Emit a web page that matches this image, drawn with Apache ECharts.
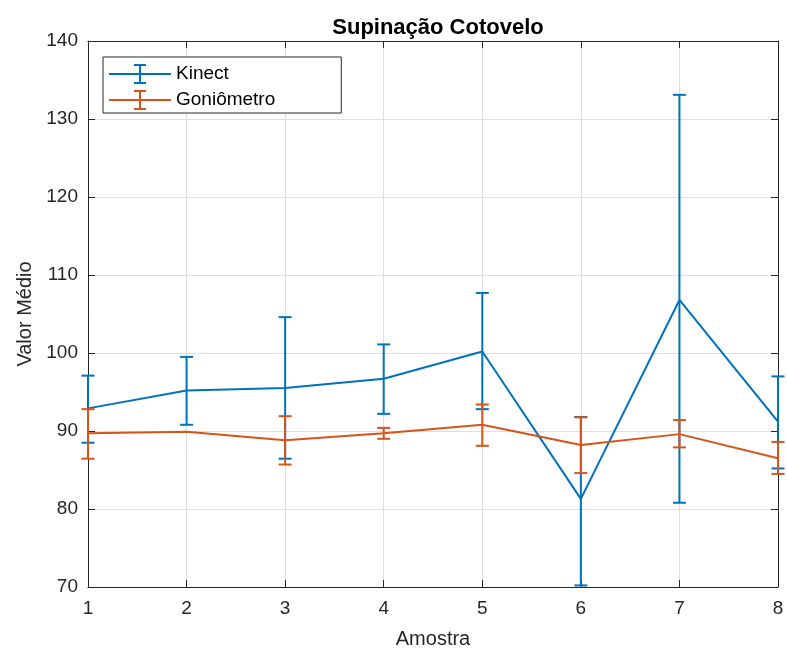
<!DOCTYPE html>
<html>
<head>
<meta charset="utf-8">
<script src="https://cdn.jsdelivr.net/npm/echarts@6/dist/echarts.min.js"></script>
<style>html,body{margin:0;padding:0;background:#fff;}#c{width:787px;height:655px;}</style>
</head>
<body>
<div id="c"></div>
<script>
const samples = [1, 2, 3, 4, 5, 6, 7, 8];
const kinectMean = [92.9, 95.2, 95.5, 96.7, 100.2, 81.3, 106.8, 91.2];
const kinectLow  = [88.5, 90.8, 86.45, 92.2, 92.8, 70.2, 80.8, 85.2];
const kinectHigh = [97.1, 99.5, 104.6, 101.1, 107.7, 91.8, 133.1, 97.0];
const gonioMean = [89.7, 89.9, 88.8, 89.7, 90.8, 88.2, 89.6, 86.5];
const gonioLow  = [86.45, null, 85.7, 89.0, 88.1, 84.6, 87.9, 84.5];
const gonioHigh = [92.8, null, 91.9, 90.4, 93.4, 91.75, 91.4, 88.6];
const yTicks = [70, 80, 90, 100, 110, 120, 130, 140];

const BLUE = '#0072BD', ORANGE = '#D95319', AX = '#262626';
const FONT = "'Liberation Sans', Arial, Helvetica, sans-serif";

function pairs(m) { return samples.map((x, i) => [x, m[i]]); }
function errs(lo, hi) {
  return samples.map((x, i) => [x, lo[i], hi[i]]).filter(d => d[1] != null);
}
function errRender(color) {
  return function (params, api) {
    const x = api.value(0);
    const p1 = api.coord([x, api.value(1)]);
    const p2 = api.coord([x, api.value(2)]);
    const hw = 6.5;
    const st = { stroke: color, lineWidth: 2 };
    return {
      type: 'group',
      children: [
        { type: 'line', shape: { x1: p1[0], y1: p1[1], x2: p2[0], y2: p2[1] }, style: st },
        { type: 'line', shape: { x1: p1[0] - hw, y1: p1[1], x2: p1[0] + hw, y2: p1[1] }, style: st },
        { type: 'line', shape: { x1: p2[0] - hw, y1: p2[1], x2: p2[0] + hw, y2: p2[1] }, style: st }
      ]
    };
  };
}
const ICON = 'path://M0,9h62v2h-62z M30,0h2v20h-2z M25,0h12v2h-12z M25,18h12v2h-12z';

const chart = echarts.init(document.getElementById('c'), null, { renderer: 'canvas' });
const gridLine = { show: true, lineStyle: { color: '#dfdfdf', width: 1 } };
chart.setOption({
  animation: false,
  backgroundColor: '#fff',
  textStyle: { fontFamily: FONT },
  title: {
    text: 'Supinação Cotovelo', left: 433, top: 12, textAlign: 'center',
    textStyle: { fontFamily: FONT, fontSize: 22, fontWeight: 'bold', color: '#000' }
  },
  legend: {
    left: 103, top: 57,
    orient: 'vertical',
    data: [{ name: 'Kinect', icon: ICON }, { name: 'Goniômetro', icon: ICON }],
    itemWidth: 62, itemHeight: 20, itemGap: 6,
    padding: [7, 66, 3, 6],
    borderColor: AX, borderWidth: 1, backgroundColor: '#fff',
    textStyle: { fontFamily: FONT, fontSize: 19, color: '#000' }
  },
  grid: { left: 88, right: 9, top: 41, bottom: 68, containLabel: false },
  xAxis: [{
    type: 'value', min: 1, max: 8, interval: 1,
    name: 'Amostra', nameLocation: 'middle', nameGap: 42,
    nameTextStyle: { fontFamily: FONT, fontSize: 20, color: AX },
    axisLine: { show: true, lineStyle: { color: AX, width: 1 } },
    axisTick: { show: true, inside: true, length: 7, lineStyle: { color: AX } },
    axisLabel: { fontFamily: FONT, fontSize: 19, color: AX, margin: 12 },
    splitLine: gridLine
  }, {
    type: 'value', position: 'top', min: 1, max: 8, interval: 1,
    axisLine: { show: true, lineStyle: { color: AX, width: 1 } },
    axisTick: { show: true, inside: true, length: 7, lineStyle: { color: AX } },
    axisLabel: { show: false }, splitLine: { show: false }
  }],
  yAxis: [{
    type: 'value', min: yTicks[0], max: yTicks[yTicks.length - 1], interval: 10,
    name: 'Valor Médio', nameLocation: 'middle', nameGap: 52,
    nameTextStyle: { fontFamily: FONT, fontSize: 20, color: AX },
    axisLine: { show: true, lineStyle: { color: AX, width: 1 } },
    axisTick: { show: true, inside: true, length: 7, lineStyle: { color: AX } },
    axisLabel: { fontFamily: FONT, fontSize: 19, color: AX, margin: 10 },
    splitLine: gridLine
  }, {
    type: 'value', position: 'right', min: 70, max: 140, interval: 10,
    axisLine: { show: true, lineStyle: { color: AX, width: 1 } },
    axisTick: { show: true, inside: true, length: 7, lineStyle: { color: AX } },
    axisLabel: { show: false }, splitLine: { show: false }
  }],
  series: [
    {
      name: 'Kinect', type: 'line', data: pairs(kinectMean), showSymbol: false, symbol: 'none',
      itemStyle: { color: BLUE }, lineStyle: { color: BLUE, width: 2 }, z: 2
    },
    {
      name: 'Kinect err', type: 'custom', data: errs(kinectLow, kinectHigh),
      renderItem: errRender(BLUE), encode: { x: 0, y: [1, 2] }, z: 2, silent: true
    },
    {
      name: 'Goniômetro', type: 'line', data: pairs(gonioMean), showSymbol: false, symbol: 'none',
      itemStyle: { color: ORANGE }, lineStyle: { color: ORANGE, width: 2 }, z: 3
    },
    {
      name: 'Goniômetro err', type: 'custom', data: errs(gonioLow, gonioHigh),
      renderItem: errRender(ORANGE), encode: { x: 0, y: [1, 2] }, z: 3, silent: true
    }
  ]
});
</script>
</body>
</html>
